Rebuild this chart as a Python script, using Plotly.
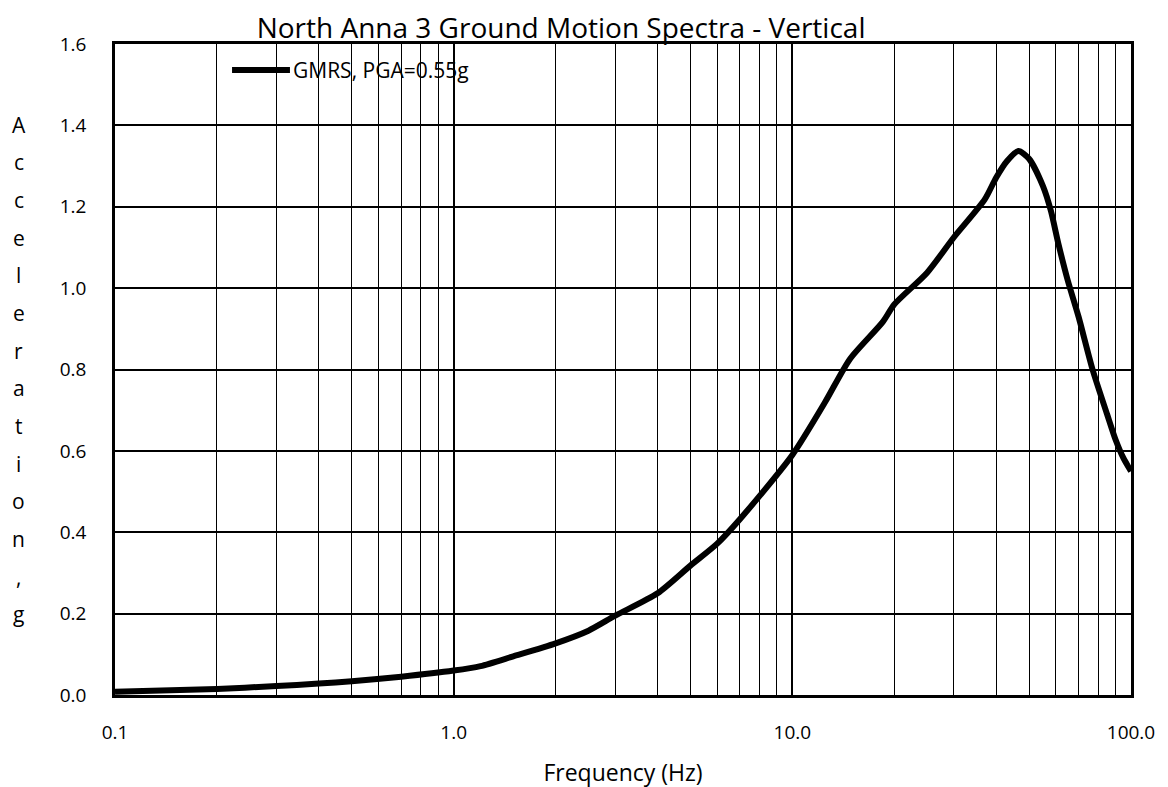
import plotly.graph_objects as go

freq = [0.1, 0.2, 0.3, 0.4, 0.5, 0.7, 1.0, 1.2, 1.5, 2.0, 2.5, 3.0, 4.0, 5.0, 6.0, 7.0, 10.0, 12.5, 14.8, 18.5, 20.0, 25.0, 30.0, 37.0, 40.0, 43.0, 46.5, 50.0, 55.0, 58.0, 61.0, 65.0, 70.0, 77.0, 85.0, 90.0, 95.0, 100.0]
accel = [0.008, 0.015, 0.022, 0.028, 0.034, 0.045, 0.060, 0.071, 0.095, 0.127, 0.158, 0.195, 0.250, 0.318, 0.372, 0.432, 0.590, 0.720, 0.826, 0.917, 0.960, 1.038, 1.125, 1.218, 1.272, 1.312, 1.337, 1.318, 1.250, 1.190, 1.110, 1.020, 0.930, 0.800, 0.690, 0.628, 0.582, 0.550]

x_tickvals = [0.1, 1, 10, 100]
x_ticktext = ["0.1", "1.0", "10.0", "100.0"]
y_tickvals = [0.0, 0.2, 0.4, 0.6, 0.8, 1.0, 1.2, 1.4, 1.6]
series_name = "GMRS, PGA=0.55g"
title_text = "North Anna 3 Ground Motion Spectra - Vertical"
y_title_letters = ["A", "c", "c", "e", "l", "e", "r", "a", "t", "i", "o", "n", ",", "g"]

font = "Open Sans, sans-serif"

fig = go.Figure()
fig.add_trace(go.Scatter(
    x=freq, y=accel, mode="lines", name=series_name, showlegend=False,
    line=dict(color="black", width=6, shape="spline", smoothing=0.7),
))

fig.update_layout(
    width=1168, height=787,
    paper_bgcolor="white", plot_bgcolor="white",
    margin=dict(l=107, r=45, t=36, b=98),
    title=dict(text=title_text, xref="container", yref="container", x=0.4735, xanchor="center",
               y=0.974, yanchor="middle", font=dict(family=font, size=28, color="black")),
    font=dict(family=font, size=20, color="black"),
    xaxis=dict(type="log", range=[-1, 2], tickvals=x_tickvals, ticktext=x_ticktext,
               showgrid=True, gridcolor="black", gridwidth=2,
               minor=dict(dtick="D1", showgrid=True, gridcolor="black", gridwidth=1.3, ticks=""),
               showline=True, linecolor="black", linewidth=2.5, mirror=True,
               ticks="", tickfont=dict(size=19), ticklabelstandoff=18,
               title=dict(text="Frequency (Hz)", font=dict(size=23), standoff=22)),
    yaxis=dict(range=[0, 1.6], tickvals=y_tickvals, tickformat=".1f",
               showgrid=True, gridcolor="black", gridwidth=2, zeroline=False,
               showline=True, linecolor="black", linewidth=2.5, mirror=True,
               ticks="", tickfont=dict(size=19), ticklabelstandoff=22),
)

# legend drawn inside the plot (long line sample like the reference)
fig.add_shape(type="line", xref="paper", yref="paper", x0=0.1152, x1=0.1722, y0=0.9602, y1=0.9602,
              line=dict(color="black", width=6))
fig.add_annotation(text=series_name, xref="paper", yref="paper", x=0.173, y=0.9602,
                   xanchor="left", yanchor="middle", showarrow=False,
                   font=dict(family=font, size=21, color="black"))

# vertical stacked y-axis title
n = len(y_title_letters)
top_y = (697 - 125) / 653
bot_y = (697 - 616) / 653
for i, ch in enumerate(y_title_letters):
    yy = top_y - (top_y - bot_y) * i / (n - 1)
    fig.add_annotation(text=ch, xref="paper", yref="paper", x=-0.0945, y=yy,
                       xanchor="center", yanchor="middle", showarrow=False,
                       font=dict(family=font, size=21, color="black"))

fig.write_html("out.html")
